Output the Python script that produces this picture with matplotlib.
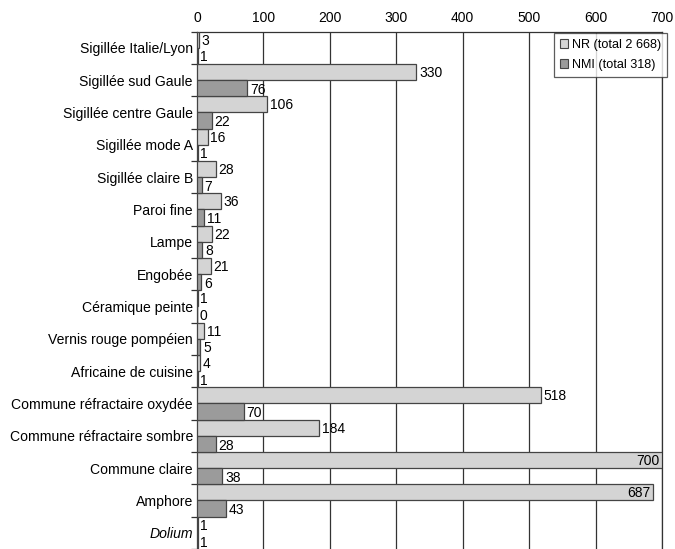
import matplotlib
matplotlib.use("Agg")
import matplotlib.pyplot as plt
import numpy as np
from matplotlib.patches import Patch

plt.rcParams['font.family'] = ['Liberation Sans', 'DejaVu Sans']

categories = ["Sigillée Italie/Lyon", "Sigillée sud Gaule", "Sigillée centre Gaule",
              "Sigillée mode A", "Sigillée claire B", "Paroi fine", "Lampe", "Engobée",
              "Céramique peinte", "Vernis rouge pompéien", "Africaine de cuisine",
              "Commune réfractaire oxydée", "Commune réfractaire sombre",
              "Commune claire", "Amphore", "Dolium"]
nr = [3, 330, 106, 16, 28, 36, 22, 21, 1, 11, 4, 518, 184, 700, 687, 1]
nmi = [1, 76, 22, 1, 7, 11, 8, 6, 0, 5, 1, 70, 28, 38, 43, 1]
legend_labels = ["NR (total 2 668)", "NMI (total 318)"]
xticks = [0, 100, 200, 300, 400, 500, 600, 700]

c_nr = "#d4d4d4"
c_nmi = "#9b9b9b"
edge = "#444444"

fig = plt.figure(figsize=(6.75, 5.49), dpi=100)
ax = fig.add_axes([197/675, 0.0, (662-197)/675, (549-31.5)/549])

n = len(categories)
y = np.arange(n)
ax.barh(y - 0.25, nr, height=0.5, color=c_nr, edgecolor=edge, linewidth=0.9, zorder=3)
ax.barh(y + 0.25, nmi, height=0.5, color=c_nmi, edgecolor=edge, linewidth=0.9, zorder=3)

fs = 10
for i in range(n):
    if nr[i] >= 650:
        ax.annotate(str(nr[i]), (nr[i], y[i] - 0.22), xytext=(-2, 0), textcoords='offset points',
                    ha='right', va='center', fontsize=fs, zorder=4)
    else:
        ax.annotate(str(nr[i]), (nr[i], y[i] - 0.22), xytext=(2, 0), textcoords='offset points',
                    ha='left', va='center', fontsize=fs, zorder=4)
    ax.annotate(str(nmi[i]), (nmi[i], y[i] + 0.3), xytext=(2, 0), textcoords='offset points',
                ha='left', va='center', fontsize=fs, zorder=4)

ax.set_xlim(0, 700)
ax.set_ylim(n - 0.5, -0.5)
ax.xaxis.tick_top()
ax.set_xticks(xticks)
ax.set_xticklabels([str(v) for v in xticks], fontsize=10)
ax.tick_params(axis='x', length=0, pad=5)
ax.grid(axis='x', color='#333333', linewidth=0.9, zorder=0)

ax.set_yticks(y)
ax.set_yticklabels(categories, fontsize=10.1)
ax.get_yticklabels()[-1].set_fontstyle('italic')
ax.tick_params(axis='y', which='major', length=0, pad=3)
ax.set_yticks(np.arange(n + 1) - 0.5, minor=True)
ax.tick_params(axis='y', which='minor', length=4, width=0.9, color='#333333', direction='out')

ax.spines['bottom'].set_visible(False)
for s in ['top', 'left', 'right']:
    ax.spines[s].set_color('#333333')
    ax.spines[s].set_linewidth(0.9)

handles = [Patch(facecolor=c_nr, edgecolor=edge, linewidth=0.8),
           Patch(facecolor=c_nmi, edgecolor=edge, linewidth=0.8)]
leg = ax.legend(handles, legend_labels, loc='upper right', bbox_to_anchor=(1.011, 0.997),
                bbox_transform=ax.transAxes,
                fontsize=9.1, frameon=True, fancybox=False, handlelength=0.7, handleheight=0.7,
                handletextpad=0.3, borderpad=0.45, labelspacing=0.65, borderaxespad=0.0)
leg.get_frame().set_edgecolor('#333333')
leg.get_frame().set_linewidth(0.9)

fig.savefig("out.png", dpi=100)
